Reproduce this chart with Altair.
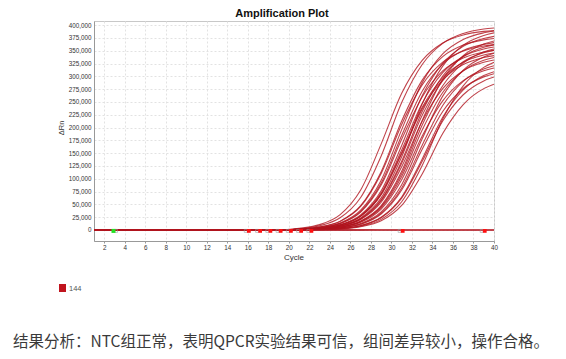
import altair as alt
import pandas as pd

# ---------------- data (ΔRn in thousands) ----------------
CYCLES = [1, 19, 21, 23, 25, 27, 29, 31, 33, 35, 37, 39, 40]

w01 = [0, 0, 3.5, 10.5, 30.0, 78.0, 168.1, 266.8, 331.1, 365.0, 380.6, 387.7, 389.2]
w02 = [0, 0, 2.4, 8.3, 23.8, 63.4, 144.5, 248.7, 323.1, 364.3, 383.7, 392.4, 394.4]
w03 = [0, 0, 1.9, 6.0, 17.3, 47.4, 113.9, 212.8, 292.5, 338.4, 361.0, 371.1, 373.7]
w04 = [0, 0, 1.8, 5.8, 16.7, 45.9, 110.3, 206.0, 283.2, 327.6, 349.4, 359.3, 361.8]
w05 = [0, 0, 1.6, 4.7, 13.7, 38.8, 97.2, 196.0, 287.7, 343.8, 372.0, 384.9, 388.5]
w06 = [0, 0, 1.4, 4.2, 12.4, 35.0, 87.8, 177.0, 259.8, 310.5, 335.9, 347.6, 350.8]
w07 = [0, 0, 1.5, 4.4, 12.9, 36.5, 91.5, 184.5, 270.8, 323.6, 350.2, 362.4, 365.7]
w08 = [0, 0, 1.1, 3.4, 10.3, 29.5, 76.6, 165.1, 262.0, 325.2, 358.5, 373.8, 378.0]
w09 = [0, 0, 1.1, 3.2, 9.5, 27.0, 70.0, 150.9, 239.4, 297.2, 327.6, 341.6, 345.5]
w10 = [0, 0, 1.1, 3.3, 9.8, 27.9, 72.4, 156.0, 247.6, 307.3, 338.8, 353.3, 357.3]
w11 = [0, 0, 1.0, 3.1, 9.3, 26.6, 69.0, 148.7, 236.0, 292.9, 322.9, 336.7, 340.5]
w12 = [0, 0, 0.8, 2.4, 8.2, 23.5, 62.7, 143.1, 246.2, 319.9, 360.6, 379.8, 384.9]
w13 = [0, 0, 0.7, 2.2, 7.7, 22.1, 58.9, 134.3, 231.1, 300.3, 338.6, 356.6, 361.4]
w14 = [0, 0, 0.7, 2.0, 7.1, 20.3, 54.1, 123.4, 212.3, 275.8, 311.0, 327.5, 331.9]
w15 = [0, 0, 0.7, 2.1, 7.5, 21.4, 57.1, 130.3, 224.2, 291.3, 328.4, 345.9, 350.6]
w16 = [0, 0, 0.8, 1.9, 6.0, 17.4, 47.6, 114.5, 214.0, 294.1, 340.2, 362.9, 368.9]
w17 = [0, 0, 0.7, 1.7, 5.5, 15.9, 43.5, 104.5, 195.3, 268.4, 310.5, 331.2, 336.7]
w18 = [0, 0, 0.6, 1.6, 5.2, 14.9, 40.8, 98.2, 183.4, 252.1, 291.6, 311.0, 316.2]
w19 = [0, 0, 0.7, 1.8, 5.8, 16.7, 45.6, 109.7, 204.9, 281.6, 325.8, 347.5, 353.3]
w20 = [0, 0, 0.3, 1.3, 4.0, 11.6, 32.8, 82.1, 165.5, 243.0, 290.3, 314.1, 320.7]
w21 = [0, 0, 0.4, 1.4, 4.3, 12.5, 35.2, 88.3, 178.0, 261.3, 312.2, 337.8, 345.0]
w22 = [0, 0, 0.3, 1.3, 3.8, 11.0, 31.2, 78.1, 157.5, 231.2, 276.3, 298.9, 305.2]
w23 = [0, 0, 0.3, 1.0, 2.9, 8.7, 24.8, 64.4, 138.8, 220.2, 273.4, 301.4, 309.1]
w24 = [0, 0, 0.3, 0.9, 2.8, 8.4, 23.9, 62.2, 134.0, 212.7, 264.0, 291.1, 298.6]
w25 = [0, 0, 0.3, 0.7, 2.1, 7.2, 20.7, 55.2, 125.9, 216.7, 281.5, 317.4, 327.4]
w26 = [0, 0, 0.3, 0.6, 1.8, 6.3, 18.0, 48.0, 109.5, 188.4, 244.8, 276.0, 284.7]
ntc1 = [0.9, 0.6, 0.4, 0.3, 0.2, 0.2, 0.1, 0.1, 0.1, 0.1, 0.0, 0.0, 0.0]
ntc2 = [-0.9, -0.6, -0.4, -0.3, -0.2, -0.2, -0.1, -0.1, -0.1, -0.1, 0.0, 0.0, 0.0]
ntc3 = [0.0, 0.0, 0.0, 0.0, 0.0, 0.0, 0.0, 0.0, 0.0, 0.0, 0.0, 0.0, 0.0]

WELLS = [w01, w02, w03, w04, w05, w06, w07, w08, w09, w10, w11, w12, w13,
         w14, w15, w16, w17, w18, w19, w20, w21, w22, w23, w24, w25, w26,
         ntc1, ntc2, ntc3]

X_TICKS = [2, 4, 6, 8, 10, 12, 14, 16, 18, 20, 22, 24, 26, 28, 30, 32, 34, 36, 38, 40]
Y_TICKS = [0, 25000, 50000, 75000, 100000, 125000, 150000, 175000, 200000,
           225000, 250000, 275000, 300000, 325000, 350000, 375000, 400000]

RED_MARKS = [16.1, 17.2, 18.2, 19.2, 20.2, 21.2, 22.2, 31.1, 39.1]
GRAY_MARKS = [15.8, 16.9, 17.9, 18.9, 19.9, 20.9, 21.9, 30.8, 38.8, 3.15]
GREEN_MARKS = [2.9]
MARK_LEVEL = -1.8

TITLE = "Amplification Plot"
X_TITLE = "Cycle"
Y_TITLE = "ΔRn"
LEGEND_LABEL = "144"
NOTE = "结果分析：NTC组正常，表明QPCR实验结果可信，组间差异较小，操作合格。"

CURVE_COLOR = "#b0141e"

# ---------------- tables ----------------
rows = []
for i, w in enumerate(WELLS):
    for c, v in zip(CYCLES, w):
        rows.append({"well": f"W{i+1}", "cycle": c, "rn": v * 1000})
curves = pd.DataFrame(rows)

red_df = pd.DataFrame({"cycle": RED_MARKS, "rn": [MARK_LEVEL * 1000] * len(RED_MARKS)})
gray_df = pd.DataFrame({"cycle": GRAY_MARKS, "rn": [MARK_LEVEL * 1000] * len(GRAY_MARKS)})
green_df = pd.DataFrame({"cycle": GREEN_MARKS, "rn": [MARK_LEVEL * 1000] * len(GREEN_MARKS)})

xscale = alt.Scale(domain=[1, 40], nice=False, zero=False)
yscale = alt.Scale(domain=[-21500, 408000], nice=False, zero=False)

x_axis = alt.Axis(values=X_TICKS, title=None, labelFontSize=6.3, labelColor="#333",
                  labelFont="Liberation Sans", tickSize=2, tickColor="#999",
                  domainColor="#999", gridColor="#e2e2e2", gridDash=[2, 2],
                  labelPadding=1, labelFlush=False, labelOverlap=False,
                  labelExpr="format(datum.value, 'd')")
y_axis = alt.Axis(values=Y_TICKS, title=None, labelFontSize=6.3,
                  labelColor="#333", labelFont="Liberation Sans", tickSize=0,
                  domainColor="#999", gridColor="#e2e2e2", gridDash=[2, 2],
                  labelPadding=3, labelOverlap=False,
                  labelExpr="format(datum.value, ',')")

X_ENC = alt.X("cycle:Q", scale=xscale, axis=x_axis)
Y_ENC = alt.Y("rn:Q", scale=yscale, axis=y_axis)

lines = alt.Chart(curves).mark_line(
    interpolate="monotone", strokeWidth=1.1, opacity=0.8, color=CURVE_COLOR, clip=True
).encode(x=X_ENC, y=Y_ENC, detail="well:N")

gray_pts = alt.Chart(gray_df).mark_square(
    filled=False, stroke="#9a9a9a", strokeWidth=0.8, size=9
).encode(x=X_ENC, y=Y_ENC)

red_pts = alt.Chart(red_df).mark_square(
    filled=True, color="#ff1010", size=14, opacity=1
).encode(x=X_ENC, y=Y_ENC)

green_pts = alt.Chart(green_df).mark_square(
    filled=True, color="#22e022", size=16, opacity=1
).encode(x=X_ENC, y=Y_ENC)

def label(text, x, y, **kw):
    return alt.Chart(pd.DataFrame({"t": [text]})).mark_text(**kw).encode(
        x=alt.value(x), y=alt.value(y), text="t:N")

title_t = label(TITLE, 188, -4, font="Liberation Sans", fontSize=11, fontWeight="bold",
                color="#111", align="center", baseline="alphabetic")
xtitle_t = label(X_TITLE, 200, 237, font="Liberation Sans", fontSize=8, color="#333",
                 align="center", baseline="middle")
ytitle_t = label(Y_TITLE, -32, 107, font="Liberation Sans", fontSize=7.5, color="#333",
                 align="center", baseline="middle", angle=270)
legend_sq = alt.Chart(pd.DataFrame({"t": [LEGEND_LABEL]})).mark_rect(color="#c0141e").encode(
    x=alt.value(-35), x2=alt.value(-28), y=alt.value(263), y2=alt.value(271))
legend_t = label(LEGEND_LABEL, -25, 267.5, font="Liberation Sans", fontSize=7.5, color="#555",
                 align="left", baseline="middle")
note_t = label(NOTE, -81, 321, font="Noto Sans CJK SC", fontSize=15.5, color="#3a3a3a",
               align="left", baseline="middle")

chart = alt.layer(
    lines, gray_pts, red_pts, green_pts,
    title_t, xtitle_t, ytitle_t, legend_sq, legend_t, note_t
).properties(
    width=400, height=220,
    autosize=alt.AutoSizeParams(type="none"),
    padding={"left": 86, "top": 13, "right": 60, "bottom": 116},
    background="white",
).configure_view(stroke="#c8c8c8", strokeWidth=1)

chart.save("out.html", embed_options={"renderer": "svg", "actions": False})
